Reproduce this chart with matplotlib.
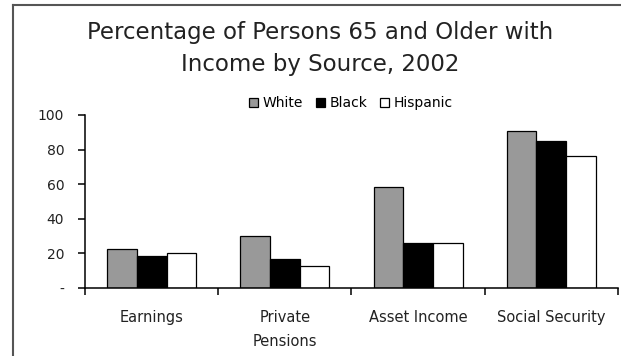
"""
Percentage of persons 65 and older with income by source, 2002.
"""
import matplotlib
matplotlib.use("Agg")
import matplotlib.pyplot as plt
import numpy as np

categories = ["Earnings", "Private\nPensions", "Asset Income", "Social Security"]
series_names = ["White", "Black", "Hispanic"]
white = [22.5, 30, 58.5, 91]
black = [18.5, 17, 26, 85]
hispanic = [20, 13, 26, 76.5]
yticks = [0, 20, 40, 60, 80, 100]
ytick_labels = ["-", "20", "40", "60", "80", "100"]

colors = ["#999999", "#000000", "#ffffff"]


def main():
    fig = plt.figure(figsize=(6.21, 3.56), dpi=100)
    ax = fig.add_axes([0.137, 0.191, 0.858, 0.486])

    # Bars, three per category
    x = np.arange(len(categories))
    width = 0.223
    for i, vals in enumerate([white, black, hispanic]):
        ax.bar(x + (i - 1) * width, vals, width,
               color=colors[i], edgecolor="black", linewidth=0.9,
               label=series_names[i])

    # Axes styling (Excel-like)
    ax.set_xlim(-0.5, len(categories) - 0.5)
    ax.set_ylim(0, 100)
    ax.spines["top"].set_visible(False)
    ax.spines["right"].set_visible(False)
    for s in ("left", "bottom"):
        ax.spines[s].set_linewidth(1.1)
    ax.set_yticks(yticks)
    ax.set_yticklabels(ytick_labels, fontsize=10, color="#222222")
    ax.set_xticks(np.arange(len(categories) + 1) - 0.5)
    ax.set_xticklabels([])
    ax.set_xticks(x, minor=True)
    ax.set_xticklabels(categories, minor=True, fontsize=10.5, color="#222222",
                       linespacing=1.75)
    ax.tick_params(axis="x", which="major", length=5, width=1.1, direction="out")
    ax.tick_params(axis="x", which="minor", length=0, pad=16)
    ax.tick_params(axis="y", length=5, width=1.1, pad=10)

    # Title and legend
    fig.text(0.515, 0.865, "Percentage of Persons 65 and Older with\nIncome by Source, 2002",
             ha="center", va="center", fontsize=16.5, color="#222222",
             linespacing=1.5)
    ax.legend(loc="center", bbox_to_anchor=(0.565, 0.71),
              bbox_transform=fig.transFigure, ncol=3, frameon=False,
              fontsize=10, handlelength=0.65, handleheight=0.65,
              handletextpad=0.35, columnspacing=0.9, borderpad=0)

    # Outer frame (only top and left visible)
    fig.add_artist(plt.Line2D([0.021, 0.021], [0, 0.985], color="#555555",
                              linewidth=1.5, transform=fig.transFigure))
    fig.add_artist(plt.Line2D([0.021, 1.0], [0.985, 0.985], color="#555555",
                              linewidth=1.5, transform=fig.transFigure))

    fig.savefig("out.png", dpi=100)


if __name__ == "__main__":
    main()
